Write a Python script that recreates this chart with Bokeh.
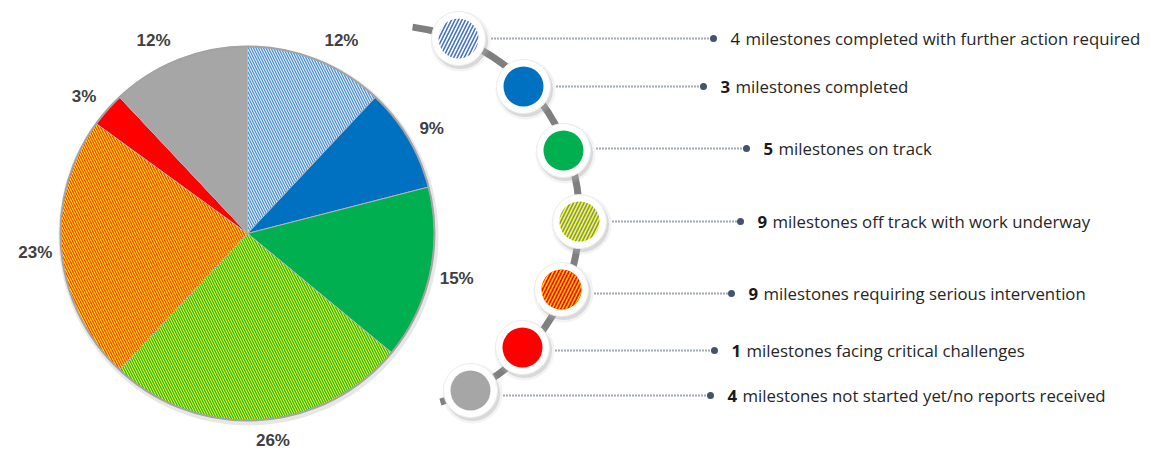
import numpy as np
from bokeh.plotting import figure
from bokeh.models import Range1d, ColumnDataSource
from bokeh.core.properties import value
from bokeh.embed import file_html
from bokeh.resources import INLINE

# ---- data ----
statuses = ["milestones completed with further action required",
            "milestones completed",
            "milestones on track",
            "milestones off track with work underway",
            "milestones requiring serious intervention",
            "milestones facing critical challenges",
            "milestones not started yet/no reports received"]
counts = [4, 3, 5, 9, 9, 1, 4]
percents = [12, 9, 15, 26, 23, 3, 12]
pct_labels = ["12%", "9%", "15%", "26%", "23%", "3%", "12%"]

# ---- styles ----
pie_fill = ["#e9eef5", "#0070c0", "#00b050", "#ffff00", "#ffff00", "#ff0000", "#a6a6a6"]
pie_hatch = ["\\", " ", " ", "\\", "\\", " ", " "]
pie_hatch_color = ["#3d8bd6", "#0070c0", "#00b050", "#2eb43a", "#ff4000", "#ff0000", "#a6a6a6"]
pie_hatch_w = [1.15, 1, 1, 1.4, 1.4, 1, 1]
dot_fill = ["#ffffff", "#0070c0", "#00b050", "#ffff00", "#ff0000", "#ff0000", "#a6a6a6"]
dot_hatch = ["/", " ", " ", "/", "/", " ", " "]
dot_hatch_color = ["#4472c4", "#0070c0", "#00b050", "#7890a8", "#ffd000", "#ff0000", "#a6a6a6"]
num_style = ["normal", "bold", "bold", "bold", "bold", "bold", "bold"]

W, H = 1151, 450
p = figure(width=W, height=H, output_backend="svg", toolbar_location=None,
           x_range=Range1d(0, W), y_range=Range1d(0, H),
           min_border=0, outline_line_color=None)
p.axis.visible = False
p.grid.visible = False
p.background_fill_color = "white"

def Y(sy):
    return H - sy

# ---- pie ----
cx, cy, R = 247, Y(233), 187
frac = np.array(percents, dtype=float) / sum(percents)
cum = np.concatenate([[0], np.cumsum(frac)])
start = np.pi / 2 - 2 * np.pi * cum[1:]
end = np.pi / 2 - 2 * np.pi * cum[:-1]
mid = (start + end) / 2

# soft shadow / rim
p.circle(x=cx + 1, y=cy - 2, radius=R + 3, fill_color="#d0d0d0", fill_alpha=0.5, line_color=None)
src = ColumnDataSource(dict(start=start, end=end, fill=pie_fill, hatch=pie_hatch,
                            hcol=pie_hatch_color, hw=pie_hatch_w))
p.wedge(x=cx, y=cy, radius=R, start_angle="start", end_angle="end", direction="anticlock",
        fill_color="fill", hatch_pattern="hatch", hatch_color="hcol", hatch_scale=5,
        hatch_weight="hw", line_color="#b4b4b4", line_width=1, source=src)
p.circle(x=cx, y=cy, radius=R, fill_color=None, line_color="#a3a3a3", line_width=2)

# outside-end labels
fs = 17
ux, uy = np.cos(mid), np.sin(mid)
lw = np.array([len(t) for t in pct_labels]) * 0.52 * fs
lh = 0.95 * fs
ar_ = R + 12
lx = cx + ar_ * ux + lw / 2 * np.clip(ux * 6, -1, 1) + 8 * np.sign(ux) * np.abs(uy)
ly = cy + ar_ * uy + lh / 2 * uy
p.text(x=lx, y=ly, text=pct_labels,
       text_font=value("Liberation Sans"), text_font_style="bold", text_font_size=f"{fs}px",
       text_color="#404040", text_align="center", text_baseline="middle")

# ---- timeline arc ----
acx, acy, ar = 387, Y(217), 192
p.arc(x=acx, y=acy, radius=ar, start_angle=np.radians(-74), end_angle=np.radians(82.5),
      direction="anticlock", line_color="#7f7f7f", line_width=7, line_cap="butt")

circ_x = [458, 523, 563, 579, 561, 522, 470]
circ_y = [Y(v) for v in [38, 86, 150, 221, 289, 347, 390]]
row_y = [Y(v) for v in [38, 86, 148, 221, 293, 350, 395]]
dot_x = [713, 703, 746, 740, 731, 714, 710]

# shadows
p.circle(x=[x + 2 for x in circ_x], y=[y - 3 for y in circ_y], radius=30,
         fill_color="#bdbdbd", fill_alpha=0.18, line_color=None)
p.circle(x=[x + 2 for x in circ_x], y=[y - 3 for y in circ_y], radius=27.5,
         fill_color="#a8a8a8", fill_alpha=0.35, line_color=None)
p.circle(x=circ_x, y=circ_y, radius=27, fill_color="white", line_color="#ececec", line_width=1)
csrc = ColumnDataSource(dict(x=circ_x, y=circ_y, fill=dot_fill, hatch=dot_hatch,
                             hcol=dot_hatch_color))
p.circle(x="x", y="y", radius=20, fill_color="fill", hatch_pattern="hatch",
         hatch_color="hcol", hatch_scale=7, hatch_weight=1.6, line_color=None, source=csrc)

# leaders
for i in range(len(counts)):
    p.line(x=[circ_x[i] + 33, dot_x[i]], y=[row_y[i], row_y[i]], line_color="#44546a",
           line_width=2, line_dash="1 2")
p.scatter(x=dot_x, y=row_y, size=7, marker="circle", fill_color="#44546a", line_color=None)

tx = [d + 17 for d in dot_x]
p.text(x=tx, y=row_y, text=[str(c) for c in counts], text_font=value("Open Sans"),
       text_font_style=num_style, text_font_size="16.8px", text_color="#1a1a1a",
       text_baseline="middle", text_align="left")
p.text(x=[t + 15 for t in tx], y=row_y, text=statuses, text_font=value("Open Sans"),
       text_font_size="16.8px", text_color="#262626", text_baseline="middle", text_align="left")

open("out.html", "w").write(file_html(p, INLINE))
